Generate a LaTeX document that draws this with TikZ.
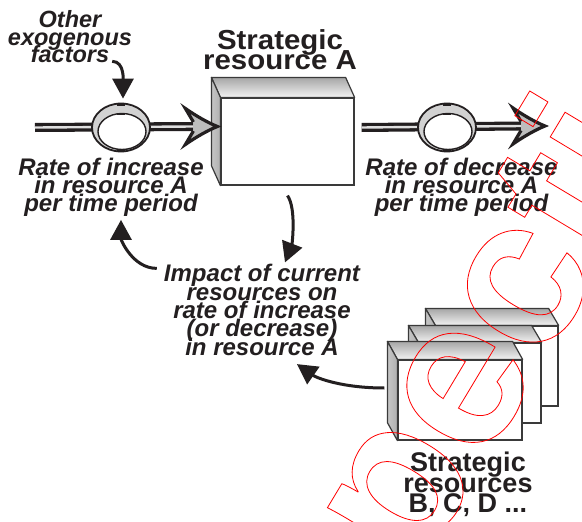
\documentclass[tikz,border=0pt]{standalone}
\usepackage{fontspec}
\setmainfont{Liberation Sans}
\usetikzlibrary{arrows.meta,shapes.geometric,calc}
\definecolor{ink}{HTML}{231F20}
\definecolor{edge}{HTML}{3A3A3A}
\definecolor{headgray}{HTML}{BDBDBD}

\newcommand{\tightlines}{\lineskiplimit=-50pt\relax}

% side faces of a solid box whose front face is the node #1, depth offset (#2,#3)
\newcommand{\boxsides}[3]{%
  \shadedraw[top color=gray!70, bottom color=gray!10, draw=edge, line width=1.2pt, line join=round]
    (#1.north west) -- ++(#2,#3) -- ($(#1.north east)+(#2,#3)$) -- (#1.north east) -- cycle;
  \shadedraw[left color=gray!45, middle color=gray!8, right color=gray!62, draw=edge, line width=1.2pt, line join=round]
    (#1.north west) -- ++(#2,#3) -- ($(#1.south west)+(#2,#3)$) -- (#1.south west) -- cycle;
}

\tikzset{
  lbl/.style={font=\fontsize{24}{18}\selectfont\bfseries\itshape\tightlines,
              align=center, inner sep=0pt, text=ink},
  ttl/.style={font=\fontsize{27}{20.3}\selectfont\bfseries\tightlines,
              align=center, inner sep=0pt, text=ink},
  face/.style={rectangle, fill=white, draw=edge, line width=1.2pt, inner sep=0pt},
  pipe/.style={draw=ink, line width=9pt},
  pipecore/.style={draw=gray!25, line width=2.4pt},
  valve/.style={ellipse, minimum width=58pt, minimum height=48pt, inner sep=0pt,
                fill=gray!35, draw=ink, line width=1.8pt},
  link/.style={draw=ink, line width=3pt, -{Triangle[length=20pt,width=21pt]}},
  pics/flowhead/.style={code={
    \fill[headgray] (-24,-4.5) -- (-32,-18) .. controls (-22,-11) and (-10,-4) .. (0,0)
      .. controls (-10,4) and (-22,11) .. (-32,18) -- (-24,4.5) -- cycle;
    \draw[ink, line width=3.2pt, line join=miter, miter limit=6]
      (-24,-4.5) -- (-32,-18) .. controls (-22,-11) and (-10,-4) .. (0,0)
      .. controls (-10,4) and (-22,11) .. (-32,18) -- (-24,4.5);
  }},
  pics/ring/.style={code={
    \fill[white, draw=ink, line width=1.4pt] (1,4) ellipse [x radius=24, y radius=18];
    \fill[ink] (-4,-25) rectangle (4,-22);
    \fill[ink] (-4,-15) rectangle (4,-12.5);
    \fill[ink] (-4,21.5) rectangle (4,24.5);
  }}
}

\begin{document}
\begin{tikzpicture}[x=1pt,y=-1pt]
\useasboundingbox (0,0) rectangle (582,522);
\fill[white] (0,0) rectangle (582,522);

% ---- labels ----
\node[lbl, font=\fontsize{23.5}{17.5}\selectfont\bfseries\itshape\tightlines] (exo) at (70,37) {Other\\exogenous\\factors};
\node[ttl, font=\fontsize{27.5}{20}\selectfont\bfseries\addfontfeature{FakeStretch=1.07}\tightlines] (titleA) at (280,50) {Strategic\\resource A};
\node[lbl] (rinc) at (111,187.5) {Rate of increase\\in resource A\\per time period};
\node[lbl] (rdec) at (461.5,187.5) {Rate of decrease\\in resource A\\per time period};
\node[lbl, font=\fontsize{24}{18.3}\selectfont\bfseries\itshape\tightlines] (impact) at (262,310) {Impact of current\\resources on\\rate of increase\\(or decrease)\\in resource A};
\node[ttl] (titleBCD) at (468,484.5) {Strategic\\resources\\B, C, D ...};

% ---- strategic resource A ----
\node[face, minimum width=133pt, minimum height=87pt] (boxA) at (287.5,141.5) {};
\boxsides{boxA}{-9}{-20}

% ---- stack of other resources ----
\node[face, minimum width=122pt, minimum height=80pt] (boxD) at (497,366) {};
\boxsides{boxD}{-10}{-17}
\node[face, minimum width=122pt, minimum height=80pt] (boxC) at (480,383) {};
\boxsides{boxC}{-10}{-17}
\node[face, minimum width=124pt, minimum height=80pt] (boxB) at (460,400) {};
\boxsides{boxB}{-10}{-18}

% ---- inflow ----
\coordinate (inSrc) at (35,127.5);
\coordinate (inTip) at ($(boxA.west)+(-3,-15)$);
\draw[pipe] (inSrc) -- ($(inTip)+(-24,0)$);
\draw[pipecore] (inSrc) -- ($(inTip)+(-24,0)$);
\node[valve] (vin) at (121,127.5) {};
\pic at (vin.center) {ring};
\pic at (inTip) {flowhead};

% ---- outflow ----
\coordinate (outSrc) at ($(boxA.east)+(7,-14)$);
\coordinate (outTip) at (545,126);
\draw[pipe] (outSrc) -- ($(outTip)+(-24,0)$);
\draw[pipecore] (outSrc) -- ($(outTip)+(-24,0)$);
\node[valve] (vout) at (447,127.5) {};
\pic at (vout.center) {ring};
\pic at (outTip) {flowhead};

% ---- influence links ----
\draw[link] ($(exo.south east)+(-20,-2)$) .. controls +(13,0) and +(0,-16) .. ($(vin.north)+(2,-4)$);
\draw[link] ($(boxA.south)+(0,10)$) .. controls +(9,13) and +(7,-18) .. ($(impact.north)+(23,-2)$);
\draw[link] ($(impact.north west)+(-7,4)$) .. controls +(-24,0) and +(0,20) .. ($(rinc.south)+(10,3)$);
\draw[link] ($(boxB.west)+(-13,-12)$) .. controls +(-42,0) and +(20,14) .. ($(impact.south)+(35,8.5)$);

% ---- outlined stamp across the right side ----
\begin{scope}
  \clip (0,0) rectangle (582,522);
  \node[rotate=59, anchor=base west, inner sep=0pt, text=red,
        font=\fontsize{210}{210}\selectfont\bfseries] (stamp) at (259,837)
    {\special{pdf:literal direct 1 Tr 0.8 w}Inspection copy\special{pdf:literal direct 0 Tr}};
\end{scope}
\end{tikzpicture}
\end{document}
